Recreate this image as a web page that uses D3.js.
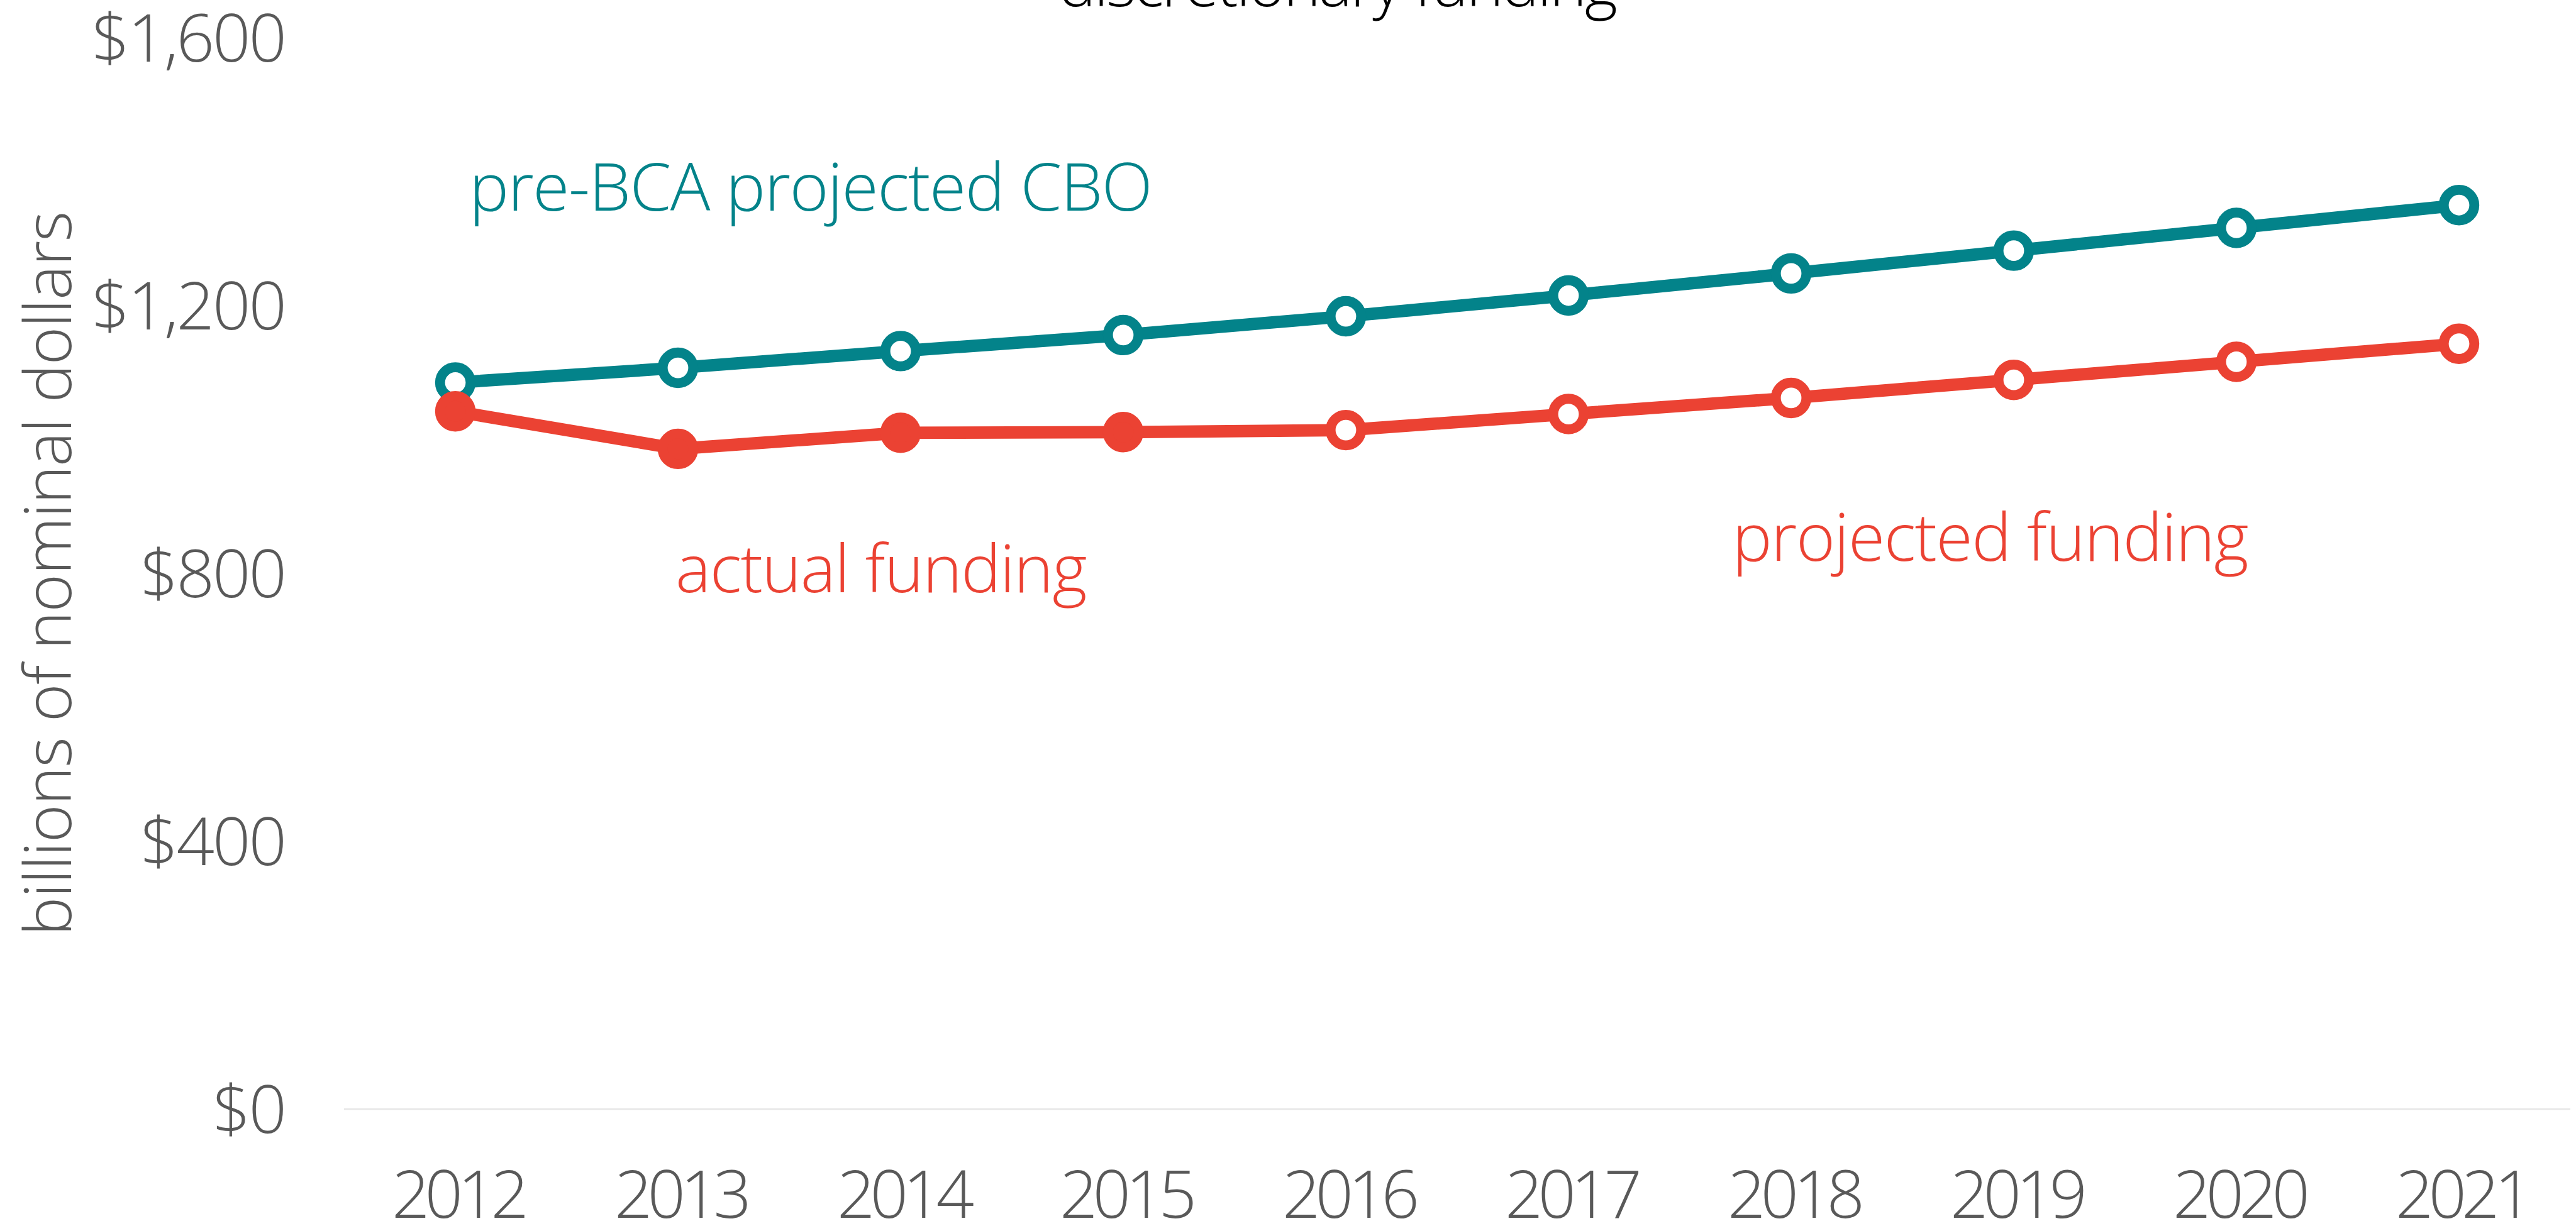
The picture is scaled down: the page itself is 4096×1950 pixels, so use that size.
<!DOCTYPE html>
<meta charset="utf-8">
<style>
  body { margin: 0; background: #fff; }
  text { font-family: "Open Sans", Lato, sans-serif; font-weight: 300; }
  .tick-label { fill: #595959; font-size: 106px; }
  .ylab { letter-spacing: -3px; }
  .xlab { letter-spacing: -8px; }
  .axis-title { fill: #595959; font-size: 104px; letter-spacing: -1.5px; }
  .title { fill: #000; font-size: 100px; text-anchor: middle; letter-spacing: -3px; }
  .note { font-size: 106px; letter-spacing: -1.5px; }
</style>
<script src="https://d3js.org/d3.v7.min.js"></script>
<div id="chart"></div>
<script>
// data
var years = ["2012", "2013", "2014", "2015", "2016", "2017", "2018", "2019", "2020", "2021"];
var preBCA = [1085, 1107, 1132, 1156, 1184, 1215, 1248, 1282, 1316, 1350];
var funding = [1042, 986, 1010, 1011, 1014, 1038, 1062, 1089, 1116, 1143];
var actualCount = 4; // 2012-2015 are actual, the rest projected
var yTicks = [0, 400, 800, 1200, 1600];

var W = 4096, H = 1950;
var teal = "#03838a", red = "#eb4233";

var svg = d3.select("#chart").append("svg")
    .attr("width", W)
    .attr("height", H);

var x = d3.scaleBand()
    .domain(years)
    .range([547, 4087])
    .padding(0);

var y = d3.scaleLinear()
    .domain([0, 1600])
    .range([1764, 60]);

var cx = function(d) { return x(d) + x.bandwidth() / 2; };

// baseline
svg.append("line")
    .attr("x1", x.range()[0])
    .attr("x2", x.range()[1])
    .attr("y1", y(0))
    .attr("y2", y(0))
    .attr("stroke", "#e6e6e6")
    .attr("stroke-width", 2.5);

// y tick labels
svg.selectAll(".ytick")
  .data(yTicks)
  .enter().append("text")
    .attr("class", "tick-label ylab")
    .attr("x", 453)
    .attr("y", function(d) { return y(d); })
    .attr("dy", "0.36em")
    .attr("text-anchor", "end")
    .text(function(d) { return "$" + d3.format(",")(d); });

// x tick labels
svg.selectAll(".xtick")
  .data(years)
  .enter().append("text")
    .attr("class", "tick-label xlab")
    .attr("x", function(d) { return cx(d) + 4; })
    .attr("y", 1937)
    .attr("text-anchor", "middle")
    .text(function(d) { return d; });

// axis title
svg.append("text")
    .attr("class", "axis-title")
    .attr("transform", "translate(113,913) rotate(-90)")
    .attr("text-anchor", "middle")
    .text("billions of nominal dollars");

// chart title (cut off at top, as in the original)
svg.append("text")
    .attr("class", "title")
    .attr("x", 2126)
    .attr("y", 10)
    .text("discretionary funding");

var line = d3.line()
    .x(function(d) { return cx(d.year); })
    .y(function(d) { return y(d.value); });

function series(vals) {
  return years.map(function(yr, i) { return {year: yr, value: vals[i], i: i}; });
}

var teals = series(preBCA), reds = series(funding);

svg.append("path")
    .datum(teals)
    .attr("d", line)
    .attr("fill", "none")
    .attr("stroke", teal)
    .attr("stroke-width", 19.7);

svg.append("path")
    .datum(reds)
    .attr("d", line)
    .attr("fill", "none")
    .attr("stroke", red)
    .attr("stroke-width", 19.7);

svg.selectAll(".tdot")
  .data(teals)
  .enter().append("circle")
    .attr("cx", function(d) { return cx(d.year); })
    .attr("cy", function(d) { return y(d.value); })
    .attr("r", 24.3)
    .attr("fill", "#fff")
    .attr("stroke", teal)
    .attr("stroke-width", 15.8);

svg.selectAll(".rdot")
  .data(reds)
  .enter().append("circle")
    .attr("cx", function(d) { return cx(d.year); })
    .attr("cy", function(d) { return y(d.value); })
    .attr("r", 24.3)
    .attr("fill", function(d) { return d.i < actualCount ? red : "#fff"; })
    .attr("stroke", red)
    .attr("stroke-width", 15.8);

// series labels, placed in data units
var step = x.step();
var notes = [
  {text: "pre-BCA projected CBO", pos: 0.062, v: 1342, color: teal},
  {text: "actual funding", pos: 0.989, v: 772, color: red},
  {text: "projected funding", pos: 5.736, v: 819, color: red}
];
svg.selectAll(".note")
  .data(notes)
  .enter().append("text")
    .attr("class", "note")
    .attr("x", function(d) { return cx(years[0]) + d.pos * step; })
    .attr("y", function(d) { return y(d.v); })
    .attr("fill", function(d) { return d.color; })
    .text(function(d) { return d.text; });
</script>
